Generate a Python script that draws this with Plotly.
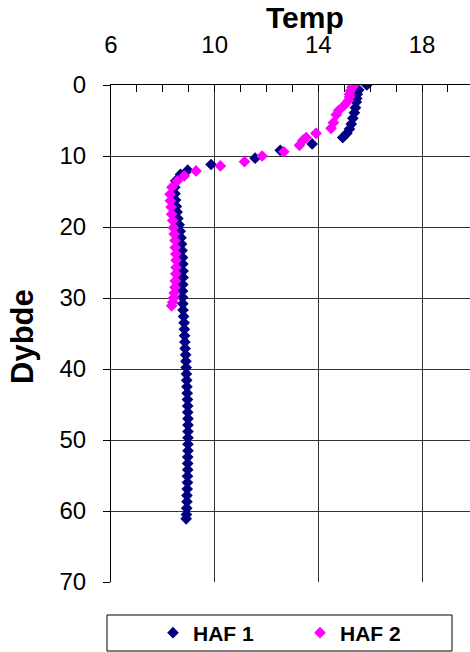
import plotly.graph_objects as go

# HAF 1 (navy)
haf1_depth = [0.0, 0.7, 1.3, 1.9, 2.4, 3.2, 3.9, 4.7, 5.5, 6.2, 6.8, 7.4, 8.3, 9.2,
              10.3, 11.2, 12.0, 12.6, 13.5, 14.4, 15.3, 16.2, 17.1, 17.9, 18.8, 19.7,
              20.6, 21.5, 22.4, 23.3, 24.3, 25.2, 26.2, 27.1, 28.1, 29.0, 29.9, 30.8,
              31.7, 32.6, 33.5, 34.4, 35.3, 36.2, 37.1, 38.0, 38.9, 39.8, 40.7, 41.6,
              42.5, 43.4, 44.3, 45.2, 46.1, 47.0, 47.9, 48.8, 49.7, 50.6, 51.5, 52.4,
              53.3, 54.2, 55.1, 56.0, 56.9, 57.8, 58.7, 59.6, 60.5, 61.1]
haf1_temp = [15.87, 15.56, 15.50, 15.48, 15.46, 15.43, 15.39, 15.33, 15.27, 15.20, 15.10,
             14.94, 13.76, 12.53, 11.56, 9.86, 8.96, 8.68, 8.50, 8.46, 8.47, 8.49, 8.52,
             8.55, 8.58, 8.63, 8.67, 8.70, 8.72, 8.74, 8.76, 8.77, 8.78, 8.78, 8.77,
             8.76, 8.76, 8.77, 8.78, 8.80, 8.82, 8.83, 8.84, 8.85, 8.86, 8.88, 8.89,
             8.90, 8.91, 8.92, 8.93, 8.94, 8.95, 8.96, 8.96, 8.97, 8.97, 8.97, 8.97,
             8.97, 8.97, 8.96, 8.96, 8.96, 8.95, 8.95, 8.94, 8.93, 8.93, 8.92, 8.91, 8.90]

# HAF 2 (magenta)
haf2_depth = [0.0, 0.3, 0.8, 1.3, 1.7, 2.2, 2.8, 3.6, 4.2, 5.3, 6.1, 6.8, 7.4, 7.8, 8.5,
              9.4, 10.0, 10.8, 11.4, 12.1, 12.8, 13.5, 14.4, 15.4, 16.3, 17.2, 18.2,
              19.1, 20.1, 21.0, 21.9, 22.9, 23.8, 24.7, 25.7, 26.6, 27.6, 28.5, 29.3,
              30.0, 30.6, 31.1]
haf2_temp = [15.39, 15.30, 15.24, 15.20, 15.20, 15.16, 15.01, 14.78, 14.69, 14.58, 14.49,
             13.91, 13.53, 13.40, 13.27, 12.67, 11.83, 11.15, 10.22, 9.28, 8.83, 8.56,
             8.35, 8.28, 8.29, 8.32, 8.34, 8.38, 8.41, 8.44, 8.47, 8.48, 8.50, 8.51,
             8.51, 8.50, 8.48, 8.47, 8.44, 8.42, 8.38, 8.34]

x_ticks = [6, 10, 14, 18]
y_ticks = [0, 10, 20, 30, 40, 50, 60, 70]

FONT = "Liberation Sans, Arial, sans-serif"

fig = go.Figure()
fig.add_trace(go.Scatter(x=haf1_temp, y=haf1_depth, mode="markers", name="HAF 1",
                         marker=dict(symbol="diamond", size=9, color="#000080")))
fig.add_trace(go.Scatter(x=haf2_temp, y=haf2_depth, mode="markers", name="HAF 2",
                         marker=dict(symbol="diamond", size=9, color="#FF00FF")))

W, H = 470, 652
L, R, T, B = 111, 0, 85, 70
PW, PH = W - L - R, H - T - B

fig.update_layout(
    width=W, height=H,
    margin=dict(l=L, r=R, t=T, b=B, pad=0, autoexpand=False),
    paper_bgcolor="white", plot_bgcolor="white",
    font=dict(family=FONT, color="black"),
    showlegend=True,
    legend=dict(orientation="h", x=(153 - L) / PW, xanchor="left",
                y=(H - B - 633) / PH, yanchor="middle",
                font=dict(family=FONT, size=21, weight="bold", color="black"),
                bgcolor="rgba(0,0,0,0)", borderwidth=0,
                entrywidth=102, entrywidthmode="pixels", itemsizing="trace"),
    xaxis=dict(side="top", range=[6, 19.85], tickmode="array", tickvals=x_ticks,
               ticktext=[str(v) for v in x_ticks],
               showgrid=True, gridcolor="#333333", gridwidth=1,
               showline=True, linecolor="black", linewidth=1,
               ticks="inside", ticklen=7, tickcolor="black",
               tickfont=dict(size=24, family=FONT), ticklabelstandoff=21,
               minor=dict(dtick=1, tick0=6, ticks="inside", ticklen=7, tickcolor="black", showgrid=False),
               zeroline=False, fixedrange=True),
    yaxis=dict(range=[70, 0], tickmode="array", tickvals=y_ticks,
               ticktext=[str(v) for v in y_ticks],
               showgrid=True, gridcolor="#333333", gridwidth=1,
               showline=True, linecolor="black", linewidth=1,
               ticks="outside", ticklen=7, tickcolor="black",
               tickfont=dict(size=24, family=FONT), ticklabelstandoff=12,
               zeroline=False, fixedrange=True),
    annotations=[
        dict(text="<b>Temp</b>", xref="paper", yref="paper",
             x=(305 - L) / PW, y=(H - B - 17) / PH,
             xanchor="center", yanchor="middle", showarrow=False,
             font=dict(family=FONT, size=30, color="black")),
        dict(text="<b>Dybde</b>", xref="paper", yref="paper",
             x=(22 - L) / PW, y=(H - B - 337) / PH,
             xanchor="center", yanchor="middle", showarrow=False, textangle=-90,
             font=dict(family=FONT, size=31, color="black")),
    ],
    shapes=[
        dict(type="rect", xref="paper", yref="paper",
             x0=(107 - L) / PW, x1=(452 - L) / PW,
             y0=(H - B - 651) / PH, y1=(H - B - 615) / PH,
             line=dict(color="black", width=1), fillcolor="rgba(0,0,0,0)", layer="above"),
    ],
)

fig.write_html("out.html")
